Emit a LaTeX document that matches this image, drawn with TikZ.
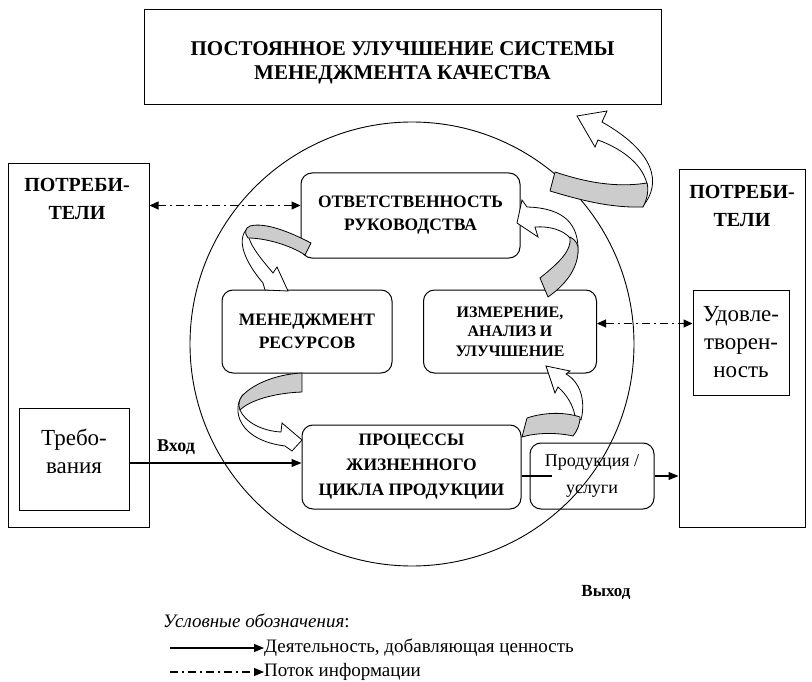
\documentclass[tikz,border=0pt]{standalone}
\usepackage{fontspec}
\setmainfont{Liberation Serif}
\usetikzlibrary{arrows.meta}
\begin{document}
\begin{tikzpicture}[x=1pt,y=-1pt,
  sqbox/.style={draw, line width=1pt, inner sep=0pt},
  rbox/.style={draw, rounded corners=11pt, line width=1pt, inner sep=0pt, align=center, font=\bfseries\fontsize{17.5}{23}\selectfont},
  btxt/.style={font=\bfseries\fontsize{20}{28}\selectfont, align=center, inner sep=0pt},
  rtxt/.style={font=\fontsize{23}{28}\selectfont, align=center, inner sep=0pt},
  ribgray/.style={draw, fill=black!20, line width=0.8pt, line join=round},
  ribwhite/.style={draw, fill=white, line width=0.8pt, line join=miter},
  tipa/.style={-{Triangle[length=10pt,width=8pt]}},
  act/.style={line width=1.1pt, tipa},
  info/.style={line width=1.1pt, dash pattern=on 8pt off 4pt on 2pt off 4pt},
]
\useasboundingbox (0,0) rectangle (812,682);

% main circle
\node[draw, circle, minimum size=444pt, line width=0.9pt] (circ) at (412,344) {};

% top box
\node[sqbox, minimum width=517pt, minimum height=95pt] (top) at (402.5,57.5) {};
\node[btxt, font=\bfseries\fontsize{21}{24}\selectfont] (toptxt) at (402.5,63)
  {ПОСТОЯННОЕ УЛУЧШЕНИЕ СИСТЕМЫ\\МЕНЕДЖМЕНТА КАЧЕСТВА};

% left customers
\node[sqbox, minimum width=141pt, minimum height=363pt] (left) at (78.5,345.5) {};
\node[btxt] (lefttxt) at (77,199) {ПОТРЕБИ-\\ТЕЛИ};
\node[sqbox, minimum width=110pt, minimum height=102pt] (treb) at (74,459) {};
\node[rtxt] (trebtxt) at (74,451) {Требо-\\вания};

% right customers
\node[sqbox, minimum width=126pt, minimum height=357pt] (right) at (742,348.5) {};
\node[btxt] (righttxt) at (742,206) {ПОТРЕБИ-\\ТЕЛИ};
\node[sqbox, minimum width=96pt, minimum height=105pt, rtxt] (udov) at (741,342.5) {Удовле-\\творен-\\ность};

% inner boxes
\node[rbox, minimum width=219pt, minimum height=85pt] (otv) at (410.5,215.5) {ОТВЕТСТВЕННОСТЬ\\РУКОВОДСТВА};
\node[rbox, minimum width=170pt, minimum height=83pt] (men) at (307,331.5) {МЕНЕДЖМЕНТ\\РЕСУРСОВ};
\node[rbox, minimum width=173pt, minimum height=83pt, font=\bfseries\fontsize{16}{19.5}\selectfont] (izm) at (510,331.5) {ИЗМЕРЕНИЕ,\\АНАЛИЗ И\\УЛУЧШЕНИЕ};
\node[rbox, minimum width=219pt, minimum height=84pt, font=\bfseries\fontsize{17.5}{25}\selectfont] (proc) at (411.5,467) {ПРОЦЕССЫ\\ЖИЗНЕННОГО\\ЦИКЛА ПРОДУКЦИИ};
\node[draw, rounded corners=11pt, line width=1pt, inner sep=0pt, minimum width=124pt, minimum height=66pt, rtxt, font=\fontsize{18}{27}\selectfont] (prod) at (592,476) {Продукция /\\услуги};

% information flows
\coordinate (i1) at ([yshift=10pt]otv.west);
\draw[info, {Triangle[length=9pt,width=8pt]}-{Triangle[length=9pt,width=8pt]}] (i1 -| left.east) -- (i1);
\coordinate (i2) at ([yshift=8pt]izm.east);
\draw[info, {Triangle[length=9pt,width=8pt]}-{Triangle[length=9pt,width=8pt]}] (i2) -- (i2 -| udov.west);

% input / output
\coordinate (in) at ([yshift=4pt]proc.west);
\draw[act] (in -| treb.east) -- (in);
\node[btxt, anchor=west, font=\bfseries\fontsize{18}{22}\selectfont] (vhod) at (157,447) {Вход};
\coordinate (pin) at ([xshift=22pt]prod.west);
\draw[line width=1.1pt] (proc.east |- prod.west) -- (pin);
\draw[act] (prod.east) -- (prod.east -| right.west);
\node[btxt, font=\bfseries\fontsize{17}{22}\selectfont] (vyhod) at (606,592) {Выход};

% ribbon arrows
% 1: big one to the top box
\draw[ribwhite] (643,206) .. controls (662,183) and (655,152) .. (602,122) -- (607,111) -- (577,116) -- (595,147) -- (598,140) .. controls (625,150) and (643,166) .. (647,184) -- cycle;
\draw[ribgray] (555,172) .. controls (585,182) and (615,188) .. (647,183) .. controls (649,190) and (647,200) .. (643,207) .. controls (610,208) and (580,200) .. (550,191) -- cycle;
% 2: responsibility -> resources
\draw[ribwhite] (247,229) .. controls (236,240) and (245,262) .. (263,283) -- (265,290) -- (288,291) -- (277,267) -- (273,273) .. controls (262,260) and (252,248) .. (249,238) -- cycle;
\draw[ribgray] (311,243) .. controls (290,232) and (265,222) .. (250,226) .. controls (245,228) and (244,233) .. (248,238) .. controls (265,238) and (290,245) .. (305,255) -- cycle;
% 3: measurement -> responsibility
\draw[ribwhite] (578,252) .. controls (579,225) and (565,208) .. (527,207) -- (522,200) -- (517,223) -- (538,237) -- (535,227) .. controls (550,226) and (563,230) .. (570,238) -- cycle;
\draw[ribgray] (540,278) .. controls (560,262) and (572,250) .. (570,237) .. controls (576,240) and (579,245) .. (578,252) .. controls (577,270) and (565,285) .. (548,297) -- cycle;
% 4: resources -> processes
\draw[ribwhite] (242,396) .. controls (232,410) and (238,440) .. (285,446) -- (292,451) -- (302,440) -- (282,423) -- (281,432) .. controls (262,431) and (245,422) .. (240,410) -- cycle;
\draw[ribgray] (302,373) -- (302,392) .. controls (275,393) and (250,400) .. (240,410) .. controls (238,405) and (239,400) .. (242,396) .. controls (255,382) and (280,374) .. (302,373) -- cycle;
% 5: processes -> measurement
\draw[ribwhite] (581,420) .. controls (586,400) and (580,382) .. (566,374) -- (570,371) -- (546,366) -- (555,393) -- (558,387) .. controls (567,395) and (573,405) .. (575,416) -- cycle;
\draw[ribgray] (527,418) .. controls (545,412) and (565,412) .. (580,417) .. controls (580,425) and (577,431) .. (573,436) .. controls (555,432) and (535,433) .. (522,437) -- cycle;

% legend
\node[rtxt, anchor=west, font=\fontsize{19}{22}\selectfont] (legt) at (163,621) {\textit{Условные обозначения}:};
\coordinate (l1a) at (170,648);
\node[rtxt, anchor=west, font=\fontsize{19}{22}\selectfont] (l1) at (264,648) {Деятельность, добавляющая ценность};
\draw[act] (l1a) -- (l1.west);
\coordinate (l2a) at (170,672);
\node[rtxt, anchor=west, font=\fontsize{19}{22}\selectfont] (l2) at (264,672) {Поток информации};
\draw[info, tipa] (l2a) -- (l2.west);
\end{tikzpicture}
\end{document}
